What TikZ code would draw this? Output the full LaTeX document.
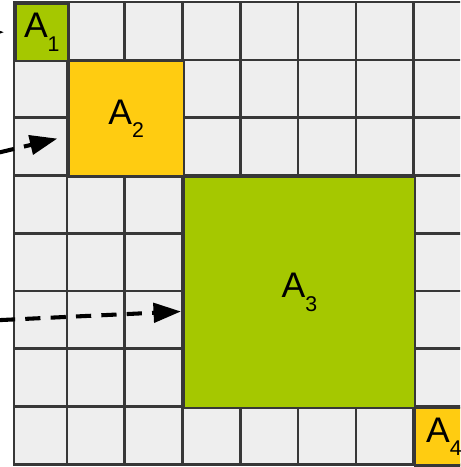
\documentclass[tikz,border=0pt]{standalone}
\usepackage{fontspec}
\setmainfont{Liberation Sans}
\usetikzlibrary{positioning,arrows.meta}
\definecolor{cellGray}{RGB}{238,238,238}
\definecolor{lineInk}{RGB}{55,55,55}
\definecolor{blkGreen}{RGB}{165,200,0}
\definecolor{blkGold}{RGB}{255,204,17}
\newcommand{\blkname}[1]{A\raisebox{-0.38em}{\fontsize{10.5}{10.5}\selectfont #1}}

\begin{document}
\begin{tikzpicture}[
  >={Triangle[length=13.5pt,width=9.5pt]},
  font=\fontsize{17.5}{18}\selectfont,
  gridline/.style={draw=lineInk, line width=1.3pt},
  blk/.style={draw=lineInk, line width=1.3pt, inner sep=0pt, anchor=north west},
  pointer/.style={->, dash pattern=on 7.5pt off 5pt, line width=2pt, black},
]
\clip (-0.159,0.035) rectangle (7.80,-8.045);

% ---- the grid ----
\fill[cellGray] (0.083,0) rectangle (8,-8);
\draw[gridline] (0.083,0) grid (8,-8) (0.083,0) rectangle (8,-8);

% ---- the blocks ----
\node[blk, fill=blkGreen, minimum width=0.917cm, minimum height=1cm] (A1) at (0.083,0) {};
\node[blk, fill=blkGold, minimum size=2cm] (A2) at (1,-1) {};
\node[blk, fill=blkGreen, minimum size=4cm] (A3) at (3,-3) {};
\node[blk, fill=blkGold, minimum size=1cm] (A4) at (7,-7) {};

\node (L1) at (A1.center) {\blkname{1}};
\node (L2) at (A2.center) {\blkname{2}};
\node (L3) at (A3.center) {\blkname{3}};
\node (L4) at (A4.center) {\blkname{4}};

% ---- pointers from the left ----
\coordinate (s1) at (-1.0,-0.52);
\coordinate (s2) at (-0.6,-2.705);
\coordinate (s3) at (-0.6,-5.524);
\draw[pointer, shorten >=4.9pt] (s1) -- (A1.west);
\draw[pointer, shorten >=4.9pt] (s2) -- ([yshift=-0.30cm]A2.west);
\draw[pointer, shorten >=0.8pt] (s3) -- ([yshift=-0.33cm]A3.west);

\end{tikzpicture}
\end{document}
